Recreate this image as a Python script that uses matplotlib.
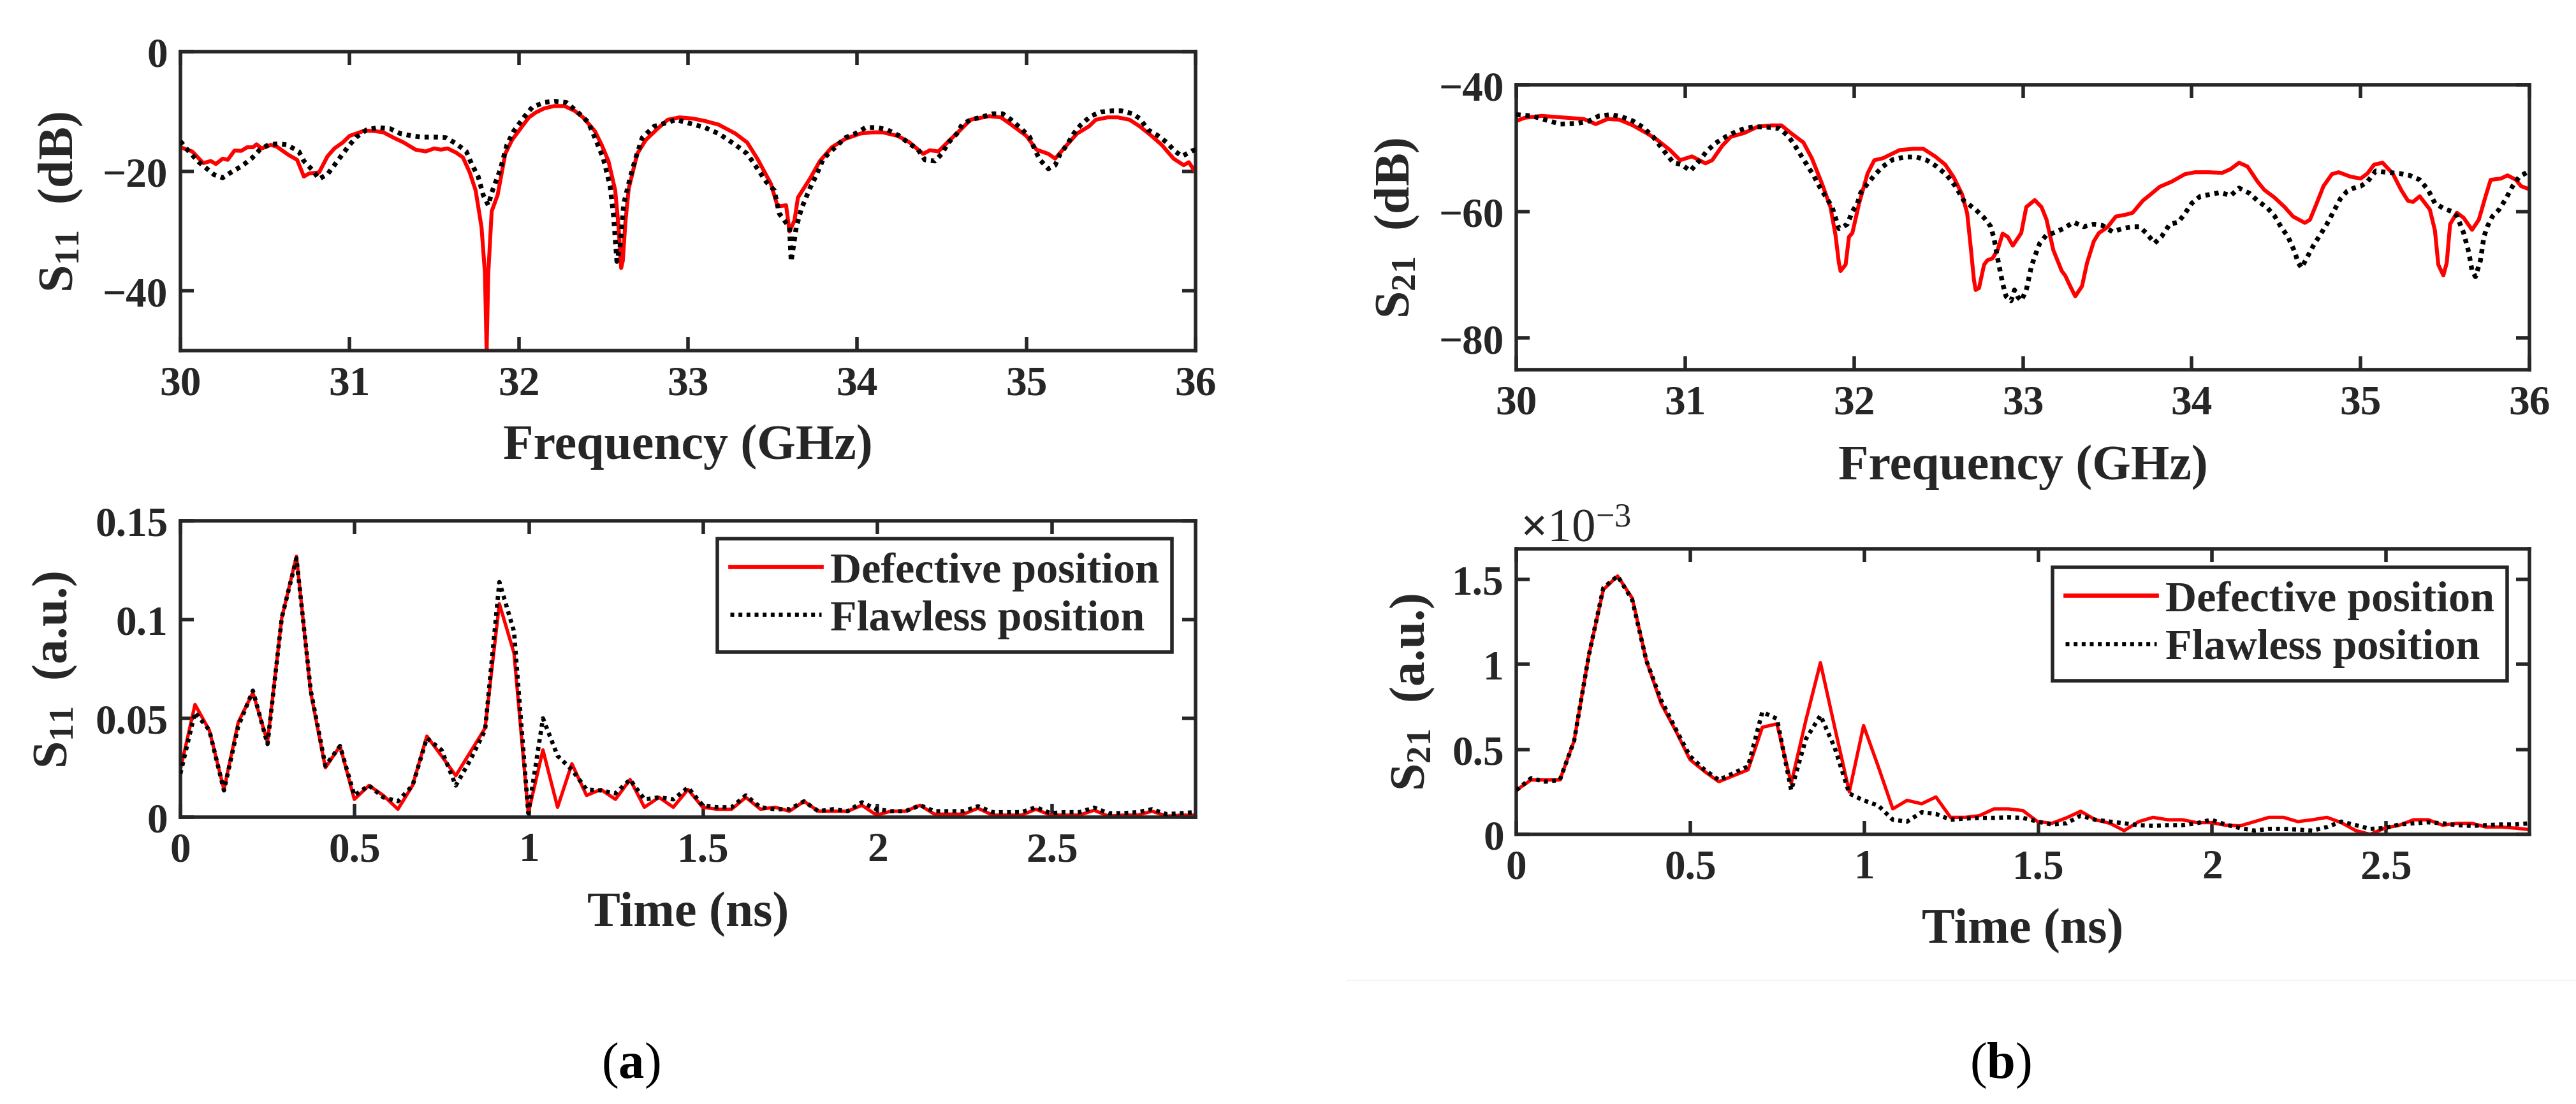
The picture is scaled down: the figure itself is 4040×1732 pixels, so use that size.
import matplotlib
matplotlib.use("Agg")
import matplotlib.pyplot as plt
from matplotlib.lines import Line2D

# ---- S11 in frequency domain: (GHz, dB) ----
s11_defective = [
    (30.0, -16.0), (30.07, -16.7), (30.135, -18.65), (30.18, -18.3), (30.21, -18.8),
    (30.25, -17.9), (30.28, -18.1), (30.32, -16.55), (30.36, -16.6), (30.395, -16.0),
    (30.43, -16.0), (30.45, -15.5), (30.48, -16.2), (30.535, -15.6), (30.57, -15.9),
    (30.61, -16.7), (30.64, -17.3), (30.69, -18.1), (30.73, -20.9), (30.76, -20.4),
    (30.82, -20.2), (30.87, -17.5), (30.91, -16.2), (30.96, -15.2), (31.0, -14.1),
    (31.04, -13.7), (31.09, -13.2), (31.15, -13.3), (31.2, -13.5), (31.26, -14.4),
    (31.32, -15.2), (31.39, -16.4), (31.45, -16.7), (31.5, -16.2), (31.54, -16.4),
    (31.58, -16.2), (31.63, -16.9), (31.67, -17.7), (31.71, -20.2), (31.745, -23.2),
    (31.78, -29.4), (31.8, -37.0), (31.81, -50.0), (31.82, -37.0), (31.84, -26.7),
    (31.875, -24.0), (31.92, -17.1), (31.96, -14.8), (32.02, -12.5), (32.06, -11.0),
    (32.1, -10.2), (32.15, -9.5), (32.21, -9.1), (32.27, -9.1), (32.33, -9.9),
    (32.38, -11.0), (32.45, -13.3), (32.49, -15.6), (32.53, -18.3), (32.57, -23.2),
    (32.59, -29.4), (32.605, -36.2), (32.615, -35.0), (32.63, -28.6), (32.65, -22.9),
    (32.7, -17.1), (32.75, -14.8), (32.82, -12.9), (32.88, -11.4), (32.95, -11.0),
    (33.03, -11.2), (33.1, -11.6), (33.18, -12.2), (33.28, -13.7), (33.35, -15.2),
    (33.41, -17.9), (33.49, -22.1), (33.53, -25.9), (33.58, -25.7), (33.6, -30.1),
    (33.63, -28.2), (33.65, -24.4), (33.72, -21.3), (33.78, -18.3), (33.85, -16.0),
    (33.93, -14.6), (34.02, -13.7), (34.09, -13.5), (34.15, -13.5), (34.24, -14.1),
    (34.31, -15.2), (34.39, -17.1), (34.43, -16.5), (34.48, -16.7), (34.54, -15.0),
    (34.61, -13.1), (34.67, -11.4), (34.78, -10.8), (34.85, -11.0), (34.91, -12.2),
    (35.0, -14.1), (35.06, -16.4), (35.13, -17.1), (35.17, -17.9), (35.24, -15.6),
    (35.3, -13.7), (35.37, -12.5), (35.41, -11.4), (35.48, -11.0), (35.54, -11.0),
    (35.61, -11.4), (35.67, -12.5), (35.74, -14.1), (35.8, -15.6), (35.87, -17.9),
    (35.93, -19.0), (35.96, -18.5), (36.0, -20.2),
]
s11_flawless = [
    (30.0, -15.0), (30.05, -16.7), (30.11, -18.5), (30.2, -20.6), (30.25, -21.1),
    (30.31, -20.0), (30.36, -19.2), (30.42, -17.9), (30.47, -16.4), (30.52, -15.6),
    (30.58, -15.4), (30.63, -15.6), (30.7, -16.7), (30.73, -18.3), (30.78, -19.8),
    (30.82, -21.3), (30.87, -20.5), (30.91, -19.0), (30.96, -17.1), (31.0, -15.6),
    (31.04, -14.3), (31.1, -13.1), (31.17, -12.7), (31.24, -12.9), (31.3, -13.7),
    (31.37, -14.1), (31.43, -14.3), (31.51, -14.3), (31.57, -14.4), (31.63, -15.4),
    (31.69, -16.7), (31.72, -18.7), (31.76, -20.9), (31.79, -24.0), (31.82, -25.7),
    (31.84, -23.6), (31.89, -19.8), (31.93, -15.6), (31.97, -13.3), (32.03, -11.0),
    (32.08, -9.3), (32.15, -8.5), (32.21, -8.3), (32.28, -8.5), (32.34, -9.9),
    (32.41, -11.8), (32.45, -14.4), (32.5, -17.9), (32.54, -22.5), (32.56, -27.4),
    (32.58, -35.1), (32.6, -32.4), (32.62, -25.5), (32.66, -20.9), (32.69, -17.9),
    (32.73, -14.4), (32.8, -12.5), (32.86, -12.0), (32.93, -11.4), (33.01, -12.0),
    (33.1, -12.7), (33.18, -13.7), (33.24, -14.8), (33.3, -16.0), (33.35, -17.1),
    (33.39, -18.7), (33.46, -21.7), (33.51, -23.2), (33.54, -27.1), (33.6, -29.4),
    (33.61, -35.1), (33.64, -29.4), (33.67, -26.3), (33.72, -22.9), (33.76, -20.6),
    (33.8, -17.9), (33.87, -16.0), (33.93, -14.4), (33.99, -13.7), (34.05, -12.7),
    (34.12, -12.7), (34.18, -13.1), (34.25, -14.1), (34.3, -15.2), (34.36, -16.4),
    (34.4, -18.1), (34.46, -18.3), (34.5, -17.1), (34.54, -15.2), (34.59, -13.7),
    (34.62, -12.2), (34.67, -11.4), (34.73, -11.0), (34.8, -10.4), (34.86, -10.4),
    (34.91, -11.4), (34.97, -12.9), (35.02, -14.3), (35.05, -16.4), (35.08, -18.1),
    (35.13, -19.6), (35.17, -19.0), (35.2, -17.1), (35.24, -15.6), (35.28, -13.7),
    (35.32, -12.3), (35.38, -10.8), (35.44, -10.1), (35.51, -9.9), (35.56, -9.9),
    (35.63, -10.4), (35.67, -11.2), (35.72, -13.1), (35.78, -14.1), (35.83, -15.2),
    (35.88, -16.7), (35.92, -17.5), (35.98, -16.6), (36.0, -16.4),
]

# ---- S21 in frequency domain: (GHz, dB) ----
s21_defective = [
    (30.0, -45.7), (30.05, -45.2), (30.15, -44.9), (30.25, -45.1), (30.4, -45.4),
    (30.47, -46.2), (30.54, -45.4), (30.61, -45.5), (30.69, -46.4), (30.77, -47.6),
    (30.83, -48.6), (30.91, -50.3), (30.97, -51.9), (31.04, -51.3), (31.12, -52.4),
    (31.16, -51.9), (31.22, -49.6), (31.27, -48.2), (31.35, -47.6), (31.43, -46.6),
    (31.51, -46.4), (31.57, -46.4), (31.63, -47.7), (31.7, -49.1), (31.75, -51.6),
    (31.81, -55.6), (31.86, -59.3), (31.89, -63.7), (31.91, -68.1), (31.92, -69.4),
    (31.95, -68.4), (31.97, -64.0), (31.99, -63.4), (32.03, -58.7), (32.08, -54.0),
    (32.12, -51.9), (32.17, -51.6), (32.27, -50.3), (32.35, -50.1), (32.41, -50.1),
    (32.48, -51.3), (32.54, -52.6), (32.59, -54.6), (32.64, -57.3), (32.67, -60.3),
    (32.69, -65.4), (32.71, -70.8), (32.72, -72.4), (32.74, -72.1), (32.77, -68.4),
    (32.79, -67.7), (32.82, -67.4), (32.85, -66.1), (32.88, -63.5), (32.91, -64.0),
    (32.94, -65.4), (32.99, -63.4), (33.02, -59.3), (33.07, -58.2), (33.11, -59.3),
    (33.14, -61.3), (33.18, -66.1), (33.23, -69.4), (33.25, -70.1), (33.28, -71.8),
    (33.31, -73.4), (33.35, -71.8), (33.38, -68.1), (33.42, -64.7), (33.45, -63.4),
    (33.5, -62.5), (33.55, -60.8), (33.61, -60.5), (33.65, -60.2), (33.71, -58.3),
    (33.77, -57.0), (33.81, -56.1), (33.88, -55.3), (33.96, -54.1), (34.02, -53.8),
    (34.1, -53.8), (34.18, -53.9), (34.23, -53.3), (34.28, -52.3), (34.33, -52.9),
    (34.39, -55.3), (34.43, -56.6), (34.49, -57.8), (34.55, -59.3), (34.6, -60.8),
    (34.67, -61.8), (34.7, -61.3), (34.74, -58.7), (34.78, -56.0), (34.83, -54.1),
    (34.87, -53.8), (34.94, -54.5), (35.0, -54.8), (35.04, -54.0), (35.08, -52.6),
    (35.13, -52.3), (35.19, -54.0), (35.24, -56.6), (35.28, -58.3), (35.31, -58.5),
    (35.35, -57.6), (35.37, -58.3), (35.41, -59.7), (35.44, -63.0), (35.46, -68.4),
    (35.49, -70.1), (35.51, -68.1), (35.53, -62.0), (35.57, -60.2), (35.61, -61.0),
    (35.66, -62.9), (35.7, -61.3), (35.74, -57.6), (35.77, -55.0), (35.83, -54.8),
    (35.87, -54.3), (35.92, -55.0), (35.95, -56.0), (36.0, -56.5),
]
s21_flawless = [
    (30.0, -44.7), (30.09, -44.9), (30.17, -45.5), (30.26, -46.2), (30.36, -46.1),
    (30.43, -45.7), (30.49, -44.9), (30.56, -44.7), (30.62, -45.0), (30.69, -45.7),
    (30.75, -46.7), (30.81, -48.2), (30.87, -50.3), (30.93, -52.3), (30.98, -52.6),
    (31.03, -53.6), (31.08, -52.1), (31.13, -50.4), (31.18, -49.2), (31.24, -48.2),
    (31.3, -47.4), (31.35, -46.9), (31.41, -46.6), (31.49, -46.7), (31.56, -46.9),
    (31.61, -48.1), (31.65, -49.6), (31.68, -50.9), (31.72, -52.6), (31.76, -54.3),
    (31.8, -56.3), (31.84, -58.0), (31.87, -59.3), (31.89, -61.0), (31.91, -62.7),
    (31.93, -62.5), (31.96, -62.0), (31.99, -60.0), (32.02, -58.7), (32.04, -57.0),
    (32.08, -55.6), (32.12, -54.3), (32.17, -52.9), (32.23, -51.8), (32.3, -51.4),
    (32.37, -51.4), (32.43, -51.9), (32.49, -52.9), (32.55, -54.3), (32.6, -56.0),
    (32.65, -58.3), (32.72, -59.7), (32.77, -61.0), (32.81, -62.4), (32.83, -64.4),
    (32.85, -67.4), (32.88, -71.4), (32.9, -73.4), (32.93, -74.1), (32.95, -72.4),
    (32.97, -73.5), (32.99, -74.1), (33.02, -72.4), (33.05, -68.7), (33.07, -67.1),
    (33.1, -65.0), (33.14, -63.7), (33.18, -63.4), (33.24, -62.7), (33.3, -61.7),
    (33.36, -62.4), (33.42, -62.0), (33.47, -62.2), (33.53, -63.2), (33.59, -62.7),
    (33.65, -62.4), (33.69, -62.4), (33.73, -63.4), (33.78, -65.0), (33.82, -64.0),
    (33.87, -62.0), (33.92, -61.7), (33.96, -60.3), (34.0, -58.7), (34.05, -57.6),
    (34.11, -57.3), (34.17, -57.0), (34.23, -57.5), (34.28, -56.3), (34.34, -57.1),
    (34.39, -58.3), (34.45, -59.5), (34.49, -60.7), (34.53, -62.5), (34.57, -64.0),
    (34.61, -66.4), (34.63, -68.1), (34.65, -68.9), (34.68, -67.4), (34.72, -65.4),
    (34.76, -63.7), (34.8, -62.0), (34.84, -60.0), (34.88, -58.0), (34.92, -56.8),
    (34.96, -56.3), (35.0, -56.0), (35.04, -55.3), (35.09, -53.6), (35.15, -53.8),
    (35.23, -54.0), (35.29, -54.3), (35.35, -55.0), (35.4, -56.6), (35.44, -58.7),
    (35.49, -59.5), (35.54, -60.0), (35.57, -60.7), (35.61, -63.4), (35.64, -66.4),
    (35.66, -69.4), (35.68, -70.3), (35.71, -67.7), (35.73, -64.0), (35.75, -62.4),
    (35.78, -60.8), (35.82, -59.7), (35.86, -58.0), (35.9, -56.0), (35.94, -54.5),
    (36.0, -53.6),
]

# ---- time domain samples (ns) ----
time_ns = [
    0.0, 0.042, 0.083, 0.125, 0.166, 0.208, 0.25, 0.291, 0.333, 0.374,
    0.416, 0.458, 0.499, 0.541, 0.582, 0.624, 0.666, 0.707, 0.749, 0.79,
    0.832, 0.874, 0.915, 0.957, 0.998, 1.04, 1.082, 1.123, 1.165, 1.206,
    1.248, 1.29, 1.331, 1.373, 1.414, 1.456, 1.498, 1.539, 1.581, 1.622,
    1.664, 1.706, 1.747, 1.789, 1.83, 1.872, 1.914, 1.955, 1.997, 2.038,
    2.08, 2.122, 2.163, 2.205, 2.246, 2.288, 2.33, 2.371, 2.413, 2.454,
    2.496, 2.538, 2.579, 2.621, 2.662, 2.704, 2.746, 2.787, 2.829, 2.87,
    2.912,
]
s11_t_defective = [
    0.024, 0.057, 0.044, 0.014, 0.048, 0.063, 0.038, 0.101, 0.132, 0.063,
    0.025, 0.036, 0.009, 0.016, 0.011, 0.004, 0.016, 0.041, 0.031, 0.021,
    0.033, 0.045, 0.108, 0.083, 0.002, 0.034, 0.005, 0.027, 0.011, 0.014,
    0.009, 0.019, 0.005, 0.010, 0.005, 0.014, 0.005, 0.004, 0.004, 0.010,
    0.004, 0.005, 0.003, 0.008, 0.003, 0.003, 0.003, 0.006, 0.001, 0.003,
    0.003, 0.006, 0.0015, 0.0015, 0.0015, 0.0045, 0.001, 0.001, 0.001, 0.004,
    0.001, 0.001, 0.001, 0.0035, 0.0005, 0.001, 0.001, 0.003, 0.0005, 0.001,
    0.001,
]
s11_t_flawless = [
    0.022, 0.053, 0.044, 0.0135, 0.046, 0.064, 0.037, 0.101, 0.131, 0.064,
    0.026, 0.036, 0.011, 0.016, 0.010, 0.008, 0.016, 0.040, 0.034, 0.016,
    0.029, 0.044, 0.119, 0.094, 0.002, 0.050, 0.031, 0.024, 0.014, 0.0135,
    0.012, 0.019, 0.009, 0.010, 0.009, 0.015, 0.006, 0.005, 0.005, 0.011,
    0.005, 0.004, 0.004, 0.008, 0.003, 0.004, 0.003, 0.0075, 0.004, 0.003,
    0.003, 0.006, 0.003, 0.003, 0.003, 0.0055, 0.0025, 0.0025, 0.0025, 0.005,
    0.002, 0.0025, 0.0025, 0.0048, 0.002, 0.002, 0.0025, 0.004, 0.0015, 0.002,
    0.0025,
]
# S21 time domain, in units of 1e-3
s21_t_defective = [
    0.26, 0.32, 0.32, 0.32, 0.55, 1.05, 1.44, 1.52, 1.39, 1.02,
    0.77, 0.61, 0.44, 0.37, 0.31, 0.345, 0.38, 0.63, 0.65, 0.30,
    0.67, 1.01, 0.63, 0.25, 0.64, 0.40, 0.15, 0.20, 0.18, 0.22,
    0.10, 0.10, 0.11, 0.15, 0.15, 0.14, 0.075, 0.065, 0.097, 0.136,
    0.086, 0.065, 0.022, 0.075, 0.10, 0.086, 0.086, 0.069, 0.069, 0.054,
    0.05, 0.075, 0.10, 0.10, 0.075, 0.086, 0.10, 0.069, 0.022, 0.0,
    0.037, 0.054, 0.086, 0.086, 0.054, 0.065, 0.065, 0.043, 0.043, 0.037,
    0.028,
]
s21_t_flawless = [
    0.26, 0.33, 0.31, 0.32, 0.55, 1.05, 1.45, 1.52, 1.38, 1.02,
    0.79, 0.62, 0.46, 0.38, 0.32, 0.36, 0.40, 0.72, 0.68, 0.26,
    0.56, 0.70, 0.51, 0.24, 0.20, 0.17, 0.086, 0.075, 0.13, 0.12,
    0.086, 0.093, 0.097, 0.097, 0.10, 0.097, 0.075, 0.058, 0.065, 0.11,
    0.086, 0.075, 0.065, 0.054, 0.05, 0.054, 0.054, 0.065, 0.086, 0.058,
    0.037, 0.022, 0.032, 0.032, 0.028, 0.022, 0.043, 0.075, 0.054, 0.032,
    0.037, 0.058, 0.065, 0.071, 0.065, 0.054, 0.05, 0.054, 0.058, 0.058,
    0.065,
]

legend_labels = ["Defective position", "Flawless position"]

plt.rcParams.update({
    "font.family": "Liberation Serif",
    "font.weight": "bold",
    "axes.labelweight": "bold",
    "mathtext.fontset": "custom",
    "mathtext.rm": "Liberation Serif",
    "mathtext.bf": "Liberation Serif:bold",
    "mathtext.it": "Liberation Serif:italic",
    "mathtext.default": "rm",
})

EDGE = "#262626"
RED = "#ff0000"
TICK_FS = 47
LABEL_FS = 56
DOTS = (0, (0.9, 1.0))

fig = plt.figure(figsize=(40.41, 17.33), dpi=100)
ax_tl = fig.add_axes([0.0700, 0.6821, 0.3940, 0.2706])
ax_bl = fig.add_axes([0.0700, 0.2597, 0.3940, 0.2683])
ax_tr = fig.add_axes([0.5885, 0.6647, 0.3932, 0.2579])
ax_br = fig.add_axes([0.5885, 0.2441, 0.3932, 0.2585])


def style(ax):
    for s in ax.spines.values():
        s.set_linewidth(4)
        s.set_color(EDGE)
    ax.tick_params(direction="in", length=15, width=4, top=True, right=True,
                   labelsize=TICK_FS, colors=EDGE)
    ax.tick_params(axis="x", pad=16)
    ax.tick_params(axis="y", pad=14)


def draw_pairs(ax, pts, **kw):
    xs = [p[0] for p in pts]
    ys = [p[1] for p in pts]
    return ax.plot(xs, ys, **kw)[0]


# top left: S11 (dB)
draw_pairs(ax_tl, s11_defective, color=RED, lw=4.4, zorder=2)
draw_pairs(ax_tl, s11_flawless, color="black", lw=5.4, ls=DOTS, zorder=3)
ax_tl.set_xlim(30, 36)
ax_tl.set_ylim(-50, 0)
ax_tl.set_xticks([30, 31, 32, 33, 34, 35, 36], ["30", "31", "32", "33", "34", "35", "36"])
ax_tl.set_yticks([-40, -20, 0], ["\u221240", "\u221220", "0"])
style(ax_tl)
ax_tl.set_xlabel("Frequency (GHz)", fontsize=LABEL_FS, color=EDGE)
ax_tl.set_ylabel(r"$\mathbf{S}_{\mathbf{11}}$  (dB)", fontsize=LABEL_FS, color=EDGE)
ax_tl.xaxis.set_label_coords(0.5, -0.245)
ax_tl.yaxis.set_label_coords(-0.094, 0.5)

# top right: S21 (dB)
draw_pairs(ax_tr, s21_defective, color=RED, lw=4.4, zorder=2)
draw_pairs(ax_tr, s21_flawless, color="black", lw=5.4, ls=DOTS, zorder=3)
ax_tr.set_xlim(30, 36)
ax_tr.set_ylim(-85, -40)
ax_tr.set_xticks([30, 31, 32, 33, 34, 35, 36], ["30", "31", "32", "33", "34", "35", "36"])
ax_tr.set_yticks([-80, -60, -40], ["\u221280", "\u221260", "\u221240"])
style(ax_tr)
ax_tr.set_xlabel("Frequency (GHz)", fontsize=LABEL_FS, color=EDGE)
ax_tr.set_ylabel(r"$\mathbf{S}_{\mathbf{21}}$  (dB)", fontsize=LABEL_FS, color=EDGE)
ax_tr.xaxis.set_label_coords(0.5, -0.26)
ax_tr.yaxis.set_label_coords(-0.094, 0.5)

time_ticks = [0, 0.5, 1, 1.5, 2, 2.5]
time_labels = ["0", "0.5", "1", "1.5", "2", "2.5"]

# bottom left: S11 time domain
ax_bl.plot(time_ns, s11_t_defective, color=RED, lw=3.8, zorder=2)
ax_bl.plot(time_ns, s11_t_flawless, color="black", lw=4.8, ls=DOTS, zorder=3)
ax_bl.set_xlim(0, time_ns[-1])
ax_bl.set_ylim(0, 0.15)
ax_bl.set_xticks(time_ticks, time_labels)
ax_bl.set_yticks([0, 0.05, 0.1, 0.15], ["0", "0.05", "0.1", "0.15"])
style(ax_bl)
ax_bl.set_xlabel("Time (ns)", fontsize=LABEL_FS, color=EDGE)
ax_bl.set_ylabel(r"$\mathbf{S}_{\mathbf{11}}$  (a.u.)", fontsize=LABEL_FS, color=EDGE)
ax_bl.xaxis.set_label_coords(0.5, -0.25)
ax_bl.yaxis.set_label_coords(-0.1, 0.5)

# bottom right: S21 time domain (x1e-3)
ax_br.plot(time_ns, s21_t_defective, color=RED, lw=3.8, zorder=2)
ax_br.plot(time_ns, s21_t_flawless, color="black", lw=4.8, ls=DOTS, zorder=3)
ax_br.set_xlim(0, time_ns[-1])
ax_br.set_ylim(0, 1.68)
ax_br.set_xticks(time_ticks, time_labels)
ax_br.set_yticks([0, 0.5, 1, 1.5], ["0", "0.5", "1", "1.5"])
style(ax_br)
ax_br.set_xlabel("Time (ns)", fontsize=LABEL_FS, color=EDGE)
ax_br.set_ylabel(r"$\mathbf{S}_{\mathbf{21}}$  (a.u.)", fontsize=LABEL_FS, color=EDGE)
ax_br.xaxis.set_label_coords(0.5, -0.258)
ax_br.yaxis.set_label_coords(-0.079, 0.5)
ax_br.text(0.004, 1.027, r"$\times\mathregular{10^{-3}}$", transform=ax_br.transAxes,
           fontsize=54, fontweight="normal", color=EDGE, ha="left", va="baseline")

# legends
for ax, anchor, rl, bl in [(ax_bl, (0.977, 0.94), 3.8, 4.8),
                           (ax_br, (0.978, 0.935), 3.8, 4.8)]:
    handles = [Line2D([], [], color=RED, lw=rl + 1),
               Line2D([], [], color="black", lw=bl, ls=DOTS)]
    leg = ax.legend(handles, legend_labels, loc="upper right", bbox_to_anchor=anchor,
                    borderaxespad=0, fontsize=49, frameon=True, fancybox=False,
                    edgecolor=EDGE, framealpha=1, handlelength=2.1,
                    handletextpad=0.2, borderpad=0.3, labelspacing=0.2)
    leg.get_frame().set_linewidth(4)
    for t in leg.get_texts():
        t.set_color(EDGE)

# faint separator line in the original figure
fig.add_artist(Line2D([0.523, 1.0], [0.112, 0.112], transform=fig.transFigure,
                      color="#f3f3f3", lw=1.5))

# panel captions
fig.text(989 / 4041, 1 - 1672 / 1733, r"($\mathbf{a}$)", fontsize=58,
         fontweight="normal", ha="center", va="center", color="black")
fig.text(3137 / 4041, 1 - 1672 / 1733, r"($\mathbf{b}$)", fontsize=58,
         fontweight="normal", ha="center", va="center", color="black")

fig.savefig("out.png", dpi=100, facecolor="white")
